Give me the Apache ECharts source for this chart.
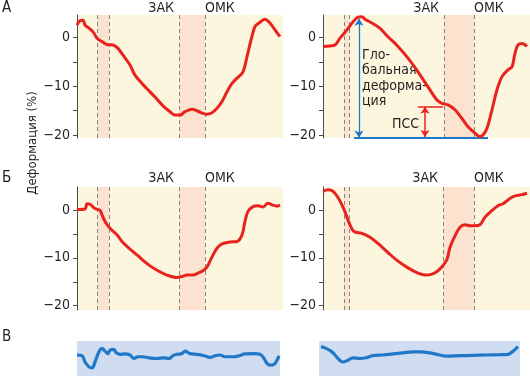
<!DOCTYPE html>
<html><head><meta charset="utf-8">
<script src="https://cdn.jsdelivr.net/npm/echarts@6/dist/echarts.min.js"></script>
<style>html,body{margin:0;padding:0;background:#fff}#c{width:530px;height:376px}</style>
</head><body><div id="c"></div>
<script>
// ---- Data (x = frame index from panel start, y = strain %) ----
const aLeftT  = [0,3,6,8,11,16,20,25,30,36,41,46,53,58,65,71,78,86,93,98,103,108,115,120,125,130,135,140,145,150,155,160,166,170,174,178,182,188,193,198,203];
const aLeftV  = [2.6,3.5,3.6,2.6,2.1,1.2,-0.1,-0.8,-1.4,-1.5,-2.2,-3.6,-5.6,-7.7,-9.4,-10.7,-12.2,-14.0,-15.2,-15.9,-15.9,-15.2,-14.7,-15.0,-15.5,-15.7,-15.4,-14.5,-13.1,-11.1,-9.4,-8.3,-7.0,-3.9,-0.5,2.3,3.0,3.8,3.0,1.6,0.2];
const aRightT = [0,7,12,17,24,29,35,39,42,49,57,65,75,85,95,105,114,119,125,132,139,145,152,157,160,164,169,174,179,185,189,192,195,199,204];
const aRightV = [-1.8,-1.7,-1.5,-0.1,1.6,3.0,4.2,4.3,3.8,3.0,1.9,0.2,-1.8,-4.2,-7.0,-10.1,-12.8,-13.5,-13.8,-14.8,-16.6,-18.3,-19.6,-20.3,-20.0,-18.6,-14.8,-10.7,-8.0,-6.6,-6.0,-3.2,-1.5,-1.2,-1.8];
const bLeftT  = [0,8,10,13,18,23,25,28,33,40,45,51,60,70,80,90,100,105,110,116,121,126,130,135,140,145,153,160,165,168,171,176,181,186,191,196,200,203];
const bLeftV  = [0.1,0.2,1.3,1.2,0.3,-0.1,-1.0,-2.4,-3.8,-5.2,-6.6,-7.8,-9.4,-11.2,-12.6,-13.6,-14.1,-13.9,-13.6,-13.6,-13.2,-12.7,-11.9,-9.8,-8.0,-7.1,-6.7,-6.6,-5.2,-2.4,-0.3,0.7,0.9,0.6,1.4,1.0,0.8,1.0];
const bRightT = [0,5,10,15,20,24,27,31,39,47,55,65,75,85,95,102,109,115,120,124,127,132,137,142,147,152,157,162,169,175,180,185,190,199,204];
const bRightV = [3.9,4.2,3.9,2.6,0.6,-1.5,-3.1,-4.5,-4.9,-5.7,-7.0,-8.9,-10.7,-12.1,-13.2,-13.6,-13.4,-12.7,-11.6,-10.3,-7.8,-5.4,-3.6,-3.1,-3.3,-3.3,-3.1,-1.5,-0.1,0.9,1.3,2.1,2.8,3.2,3.5];
const cLeftT  = [0,5,8,12,15,18,22,25,28,31,33,37,39,43,48,53,57,61,65,72,80,87,92,96,100,105,108,113,120,127,133,138,143,148,157,162,168,177,183,187,190,193,197,200,202];
const cLeftV  = [6.0,5.8,4.0,2.6,2.3,4.0,6.9,7.9,7.1,6.4,7.4,7.6,6.7,6.2,6.3,6.0,5.0,5.5,5.5,5.2,5.0,5.2,5.0,5.8,6.2,6.4,7.1,6.4,6.2,5.8,5.3,5.8,6.0,5.5,5.5,5.8,6.3,6.4,6.2,5.0,3.6,3.1,3.3,4.5,5.8];
const cRightT = [2,7,12,16,19,24,29,34,41,47,54,64,74,84,94,102,111,121,127,141,154,167,181,189,194,199];
const cRightV = [8.4,7.9,7.1,6.0,5.0,4.0,4.5,5.2,5.0,5.2,5.8,6.0,6.3,6.6,6.9,6.9,6.6,6.0,5.7,5.8,5.9,6.0,6.1,6.2,7.1,8.4];

// event frames: [start1, end1, ЗАК, ОМК]
const aLeftEvents  = [20, 32, 102, 128];
const aRightEvents = [21, 26, 121, 151];
const bLeftEvents  = [20, 32, 102, 128];
const bRightEvents = [21, 26, 120, 151];

const yTicks  = [-20, -15, -10, -5, 0];
const yLabels = [-20, -10, 0];
const eventNames = ['ЗАК', 'ОМК'];
const panelLetters = ['А', 'Б', 'В'];
const axisTitle = 'Деформация (%)';
const globalText = 'Гло-\nбальная\nдеформа-\nция';
const pssText = 'ПСС';
// annotation values (panel A right)
const globalArrowX = 36, globalTop = 3.9, globalBottom = -20.5;
const baseLineFrom = 31, baseLineTo = 165, baseLineY = -20.6;
const pssLevel = -14.2, pssFrom = 95, pssTo = 120, pssArrowX = 102, pssBottom = -20.4;

// ---- Font selection: prefer a narrow face if installed ----
function hasFont(name) {
  const c = document.createElement('canvas').getContext('2d');
  const s = 'ЗАК ОМК Деформация 0123456789';
  for (const base of ['monospace', 'serif']) {
    c.font = '40px ' + base; const w0 = c.measureText(s).width;
    c.font = "40px '" + name + "'," + base; const w1 = c.measureText(s).width;
    if (Math.abs(w0 - w1) > 0.5) return true;
  }
  return false;
}
const candidates = ['Liberation Sans Narrow', 'Arial Narrow', 'DejaVu Sans Condensed', 'Roboto'];
const pick = candidates.find(hasFont) || 'sans-serif';
const FONT = "'" + pick + "', sans-serif";

// ---- Styling ----
const RED = '#e8231d', BLUE = '#1f78c8', BG = '#fdf6df', BAND = '#fbe3d0', BLUEBG = '#d0ddf1';
const TXT = '#231f20';

const grids = [
  {left: 77,  top: 15,  width: 206, height: 123},
  {left: 323, top: 15,  width: 207, height: 123},
  {left: 77,  top: 187, width: 206, height: 123},
  {left: 323, top: 187, width: 207, height: 123},
  {left: 77,  top: 341, width: 203, height: 35},
  {left: 319, top: 341, width: 201, height: 35}
];
const xMax = [206, 207, 206, 207, 203, 201];
const yRange = [[-20.6, 4.66], [-20.6, 4.66], [-20.9, 4.8], [-20.9, 4.8], [0, 10], [0, 10]];

const zip = (t, v) => t.map((x, i) => [x, v[i]]);
const fmt = v => v < 0 ? '\u2212' + Math.abs(v) : String(v);

const option = {
  animation: false,
  grid: grids.map((g, i) => Object.assign({
    show: true, borderWidth: 0, backgroundColor: i < 4 ? BG : BLUEBG
  }, g)),
  xAxis: xMax.map((m, i) => ({type: 'value', gridIndex: i, min: 0, max: m, show: false})),
  yAxis: yRange.map((r, i) => i < 4 ? {
    type: 'value', gridIndex: i, min: r[0], max: r[1],
    axisLine: {show: true, onZero: false, lineStyle: {color: '#4a4a4a', width: 1}},
    axisTick: {show: true, length: 4, customValues: yTicks, lineStyle: {color: '#4a4a4a'}},
    axisLabel: {customValues: yLabels, formatter: fmt, fontSize: 14, color: TXT, fontFamily: FONT, margin: 7},
    splitLine: {show: false}
  } : {type: 'value', gridIndex: i, min: r[0], max: r[1], show: false, splitLine: {show: false}}),
  series: []
};

function eventMarks(ev) {
  return {
    markArea: {silent: true, itemStyle: {color: BAND}, data: [[{xAxis: ev[0]}, {xAxis: ev[1]}], [{xAxis: ev[2]}, {xAxis: ev[3]}]]},
    dashed: ev.map(x => ({xAxis: x, lineStyle: {type: [4, 3], color: '#858585', width: 1}}))
  };
}

const strain = [[aLeftT, aLeftV, aLeftEvents], [aRightT, aRightV, aRightEvents], [bLeftT, bLeftV, bLeftEvents], [bRightT, bRightV, bRightEvents]];
strain.forEach((s, i) => {
  const em = eventMarks(s[2]);
  const mlData = em.dashed.slice();
  if (i === 1) {
    mlData.push([
      {coord: [globalArrowX, globalTop], symbol: 'arrow', lineStyle: {color: BLUE, width: 1.3, type: 'solid'}},
      {coord: [globalArrowX, globalBottom], symbol: 'arrow'}
    ]);
    mlData.push([
      {coord: [baseLineFrom, baseLineY], symbol: 'none', lineStyle: {color: BLUE, width: 2, type: 'solid'}},
      {coord: [baseLineTo, baseLineY], symbol: 'none'}
    ]);
    mlData.push([
      {coord: [pssFrom, pssLevel], symbol: 'none', lineStyle: {color: RED, width: 1.5, type: 'solid'}},
      {coord: [pssTo, pssLevel], symbol: 'none'}
    ]);
    mlData.push([
      {coord: [pssArrowX, pssLevel], symbol: 'arrow', lineStyle: {color: RED, width: 1.5, type: 'solid'}},
      {coord: [pssArrowX, pssBottom], symbol: 'arrow'}
    ]);
  }
  option.series.push({
    type: 'line', xAxisIndex: i, yAxisIndex: i, data: zip(s[0], s[1]),
    smooth: 0.35, showSymbol: false, clip: false,
    lineStyle: {color: RED, width: 3}, z: 5,
    markArea: em.markArea,
    markLine: {silent: true, symbol: 'none', symbolSize: 7, label: {show: false}, data: mlData}
  });
});
[[cLeftT, cLeftV], [cRightT, cRightV]].forEach((s, j) => {
  option.series.push({
    type: 'line', xAxisIndex: 4 + j, yAxisIndex: 4 + j, data: zip(s[0], s[1]),
    smooth: 0.4, showSymbol: false, lineStyle: {color: BLUE, width: 3.2}
  });
});

const chart = echarts.init(document.getElementById('c'), null, {renderer: 'canvas'});
chart.setOption(option);

// ---- Text placed through the axes ----
const g = [];
const txt = (x, y, text, extra) => g.push({type: 'text', x, y, style: Object.assign({text, fill: TXT, font: '14px ' + FONT}, extra || {})});
const rowLabelY = [8, 178];
strain.forEach((s, i) => {
  const row = i < 2 ? 0 : 1;
  const p1 = chart.convertToPixel({gridIndex: i}, [s[2][2], 0]);
  const p2 = chart.convertToPixel({gridIndex: i}, [s[2][3], 0]);
  txt(p1[0] - 5, rowLabelY[row], eventNames[0], {textAlign: 'right', textVerticalAlign: 'middle'});
  txt(p2[0], rowLabelY[row], eventNames[1], {textAlign: 'left', textVerticalAlign: 'middle'});
});
const pg = chart.convertToPixel({gridIndex: 1}, [39, -2.0]);
txt(pg[0], pg[1], globalText, {textAlign: 'left', textVerticalAlign: 'top', lineHeight: 15.5, font: '14px ' + FONT});
const pp = chart.convertToPixel({gridIndex: 1}, [69, -17.7]);
txt(pp[0], pp[1], pssText, {textAlign: 'left', textVerticalAlign: 'middle', font: '14px ' + FONT});
txt(2, 8, panelLetters[0], {font: '15px ' + FONT, textVerticalAlign: 'middle'});
txt(2, 178, panelLetters[1], {font: '15px ' + FONT, textVerticalAlign: 'middle'});
txt(2, 337, panelLetters[2], {font: '15px ' + FONT, textVerticalAlign: 'middle'});
g.push({type: 'text', x: 33, y: 143, rotation: Math.PI / 2,
  style: {text: axisTitle, fill: TXT, font: '13px ' + FONT, textAlign: 'center', textVerticalAlign: 'middle'}});
chart.setOption({graphic: g});
</script>
</body></html>
